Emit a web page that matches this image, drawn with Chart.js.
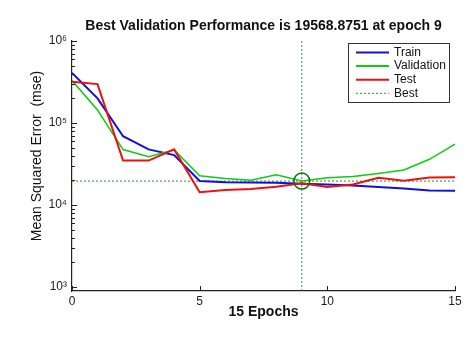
<!DOCTYPE html>
<html>
<head>
<meta charset="utf-8">
<script src="https://cdn.jsdelivr.net/npm/chart.js@4/dist/chart.umd.min.js"></script>
<style>
  html, body { margin: 0; padding: 0; background: #fff; }
  #wrap { width: 474px; height: 346px; }
</style>
</head>
<body>
<div id="wrap"><canvas id="perf"></canvas></div>
<script>
// values
const epochs = [0, 1, 2, 3, 4, 5, 6, 7, 8, 9, 10, 11, 12, 13, 14, 15];
const trainMse = [409000, 200000, 69000, 47700, 40600, 19600, 19000, 18800, 18700, 18200, 17800, 17300, 16600, 15900, 15000, 14900];
const validationMse = [329000, 144000, 47400, 38700, 47000, 22700, 21100, 20100, 23300, 19568.8751, 21500, 22200, 24300, 26700, 36100, 55300];
const testMse = [318000, 298000, 34800, 34800, 47700, 14300, 15200, 15700, 16700, 18400, 16600, 17800, 21500, 19700, 21600, 21800];
const bestEpoch = 9;
const bestPerf = 19568.8751;
const xTickValues = [0, 5, 10, 15];
const yTickValues = [1e3, 1e4, 1e5, 1e6];
const yTickLabels = ['10\u00b3', '10\u2074', '10\u2075', '10\u2076'];
const yMin = 894;
const yMax = 1e6;

const toPoints = (ys) => ys.map((y, i) => ({x: epochs[i], y: y}));

const bestColor = '#2f8f2f';
const fontFam = '"Liberation Sans", Arial, sans-serif';

// title, y label, inward tick marks and the boxed legend
const matlabBits = {
  id: 'matlabBits',
  afterDraw(chart) {
    const ctx = chart.ctx;
    const area = chart.chartArea;
    const xs = chart.scales.x;
    const ys = chart.scales.y;
    ctx.save();

    ctx.fillStyle = '#111';
    ctx.font = 'bold 14px ' + fontFam;
    ctx.textAlign = 'center';
    ctx.textBaseline = 'middle';
    ctx.fillText('Best Validation Performance is 19568.8751 at epoch 9', (area.left + area.right) / 2, 26);

    ctx.save();
    ctx.translate(37, 156);
    ctx.rotate(-Math.PI / 2);
    ctx.font = '14px ' + fontFam;
    ctx.fillText('Mean Squared Error  (mse)', 0, 0);
    ctx.restore();

    ctx.strokeStyle = '#222';
    ctx.lineWidth = 1;
    ctx.beginPath();
    xTickValues.forEach(v => {
      const px = Math.round(xs.getPixelForValue(v)) + 0.5;
      ctx.moveTo(px, area.bottom);
      ctx.lineTo(px, area.bottom - 5);
    });
    yTickValues.forEach(v => {
      const py = Math.round(ys.getPixelForValue(v)) + 0.5;
      ctx.moveTo(area.left, py);
      ctx.lineTo(area.left + 5, py);
    });
    for (let d = 1e3; d < 1e6; d *= 10) {
      for (let m = 2; m <= 9; m++) {
        const py = Math.round(ys.getPixelForValue(d * m)) + 0.5;
        ctx.moveTo(area.left, py);
        ctx.lineTo(area.left + 3, py);
      }
    }
    ctx.stroke();

    // legend box
    const bx = area.right - 107, by = area.top + 2, bw = 101, bh = 59;
    ctx.fillStyle = '#fff';
    ctx.fillRect(bx, by, bw, bh);
    ctx.strokeStyle = '#333';
    ctx.strokeRect(bx + 0.5, by + 0.5, bw, bh);
    const items = [
      {label: 'Train', color: '#1010dd', dash: []},
      {label: 'Validation', color: '#10cc10', dash: []},
      {label: 'Test', color: '#ee1010', dash: []},
      {label: 'Best', color: bestColor, dash: [2, 2]}
    ];
    ctx.font = '12px ' + fontFam;
    ctx.textAlign = 'left';
    items.forEach((it, i) => {
      const ly = by + 9.5 + i * 13.6;
      ctx.strokeStyle = it.color;
      ctx.lineWidth = it.dash.length ? 1 : 2;
      ctx.setLineDash(it.dash);
      ctx.beginPath();
      ctx.moveTo(bx + 8, ly);
      ctx.lineTo(bx + 41, ly);
      ctx.stroke();
      ctx.setLineDash([]);
      ctx.fillStyle = '#111';
      ctx.fillText(it.label, bx + 46, ly);
    });
    ctx.restore();
  }
};

new Chart(document.getElementById('perf'), {
  type: 'line',
  data: {
    datasets: [
      {
        label: 'Train',
        data: toPoints(trainMse),
        borderColor: '#1010dd',
        borderWidth: 2,
        pointRadius: 0,
        order: 3
      },
      {
        label: 'Validation',
        data: toPoints(validationMse),
        borderColor: '#10cc10',
        borderWidth: 1.5,
        pointRadius: 0,
        order: 2
      },
      {
        label: 'Test',
        data: toPoints(testMse),
        borderColor: '#ee1010',
        borderWidth: 2,
        pointRadius: 0,
        order: 1
      },
      {
        label: 'Best',
        data: [{x: epochs[0], y: bestPerf}, {x: epochs[epochs.length - 1], y: bestPerf}],
        borderColor: bestColor,
        borderWidth: 1,
        borderDash: [2, 2],
        pointRadius: 0,
        order: 4
      },
      {
        label: 'BestEpoch',
        data: [{x: bestEpoch, y: yMin}, {x: bestEpoch, y: yMax}],
        borderColor: bestColor,
        borderWidth: 1,
        borderDash: [2, 2],
        pointRadius: 0,
        order: 4
      },
      {
        label: 'BestPoint',
        data: [{x: bestEpoch, y: bestPerf}],
        showLine: false,
        pointRadius: 8,
        pointBorderWidth: 1.5,
        pointBorderColor: '#0a6a0a',
        pointBackgroundColor: 'rgba(0,0,0,0)',
        order: 0
      }
    ]
  },
  options: {
    responsive: true,
    maintainAspectRatio: false,
    animation: false,
    layout: {
      padding: {top: 41, right: 19, bottom: 0, left: 0}
    },
    plugins: {
      legend: { display: false },
      tooltip: { enabled: false }
    },
    scales: {
      x: {
        type: 'linear',
        min: 0,
        max: 15,
        afterBuildTicks: (scale) => { scale.ticks = xTickValues.map(v => ({value: v})); },
        afterFit: (scale) => { scale.height = 55; },
        grid: { display: false, drawTicks: false },
        border: { color: '#222', width: 1.2 },
        ticks: {
          padding: 3,
          color: '#222',
          font: { family: fontFam, size: 12 }
        },
        title: {
          display: true,
          text: '15 Epochs',
          color: '#111',
          padding: { top: 0, bottom: 25 },
          font: { family: fontFam, size: 14, weight: 'bold' }
        }
      },
      y: {
        type: 'logarithmic',
        min: yMin,
        max: yMax,
        afterBuildTicks: (scale) => { scale.ticks = yTickValues.map(v => ({value: v})); },
        afterFit: (scale) => { scale.width = 72; },
        grid: { display: false, drawTicks: false },
        border: { color: '#222', width: 1.2 },
        ticks: {
          padding: 5,
          color: '#222',
          font: { family: fontFam, size: 12 },
          callback: (v) => yTickLabels[yTickValues.indexOf(v)]
        }
      }
    }
  },
  plugins: [matlabBits]
});
</script>
</body>
</html>
